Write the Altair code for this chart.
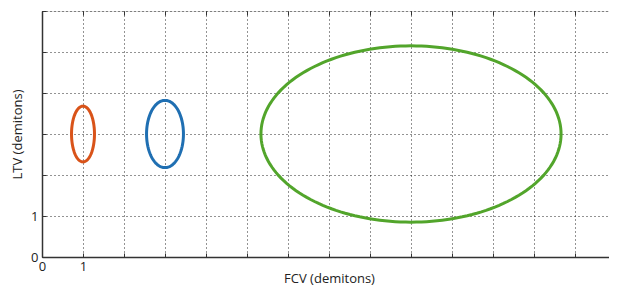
import altair as alt
import numpy as np
import pandas as pd

# Ellipse parameters (data units): centre, semi-axes
names = ["orange", "blue", "green"]
cx = [1.0, 3.0, 9.0]
cy = [3.0, 3.0, 3.0]
rx = [0.28, 0.45, 3.66]
ry = [0.68, 0.82, 2.15]
colors = ["#D95319", "#1F6FB2", "#52A52B"]

x_ticks = list(range(0, 15))
y_ticks = list(range(0, 7))

rows = []
t = np.linspace(0, 2 * np.pi, 181)
for n, a, b, ra, rb in zip(names, cx, cy, rx, ry):
    for i, tt in enumerate(t):
        rows.append({"name": n, "i": i, "x": a + ra * np.cos(tt), "y": b + rb * np.sin(tt)})
df = pd.DataFrame(rows)

W, H = 574, 246
FONT = "Open Sans"

xs = alt.Scale(domain=[0, 14], nice=False, zero=False)
ys = alt.Scale(domain=[0, 6], nice=False, zero=False)

lbl = "indexof([0,1], datum.value) >= 0 ? datum.label : ''"

common = dict(grid=True, gridDash=[1, 3], gridColor="#000", gridOpacity=0.85, ticks=False,
              domain=True, domainColor="#333", domainWidth=1.5, labelFont=FONT,
              titleFont=FONT, labelFontSize=13, titleFontSize=13, titleFontWeight="normal",
              labelColor="#222", titleColor="#222", labelExpr=lbl, labelFlush=False)

main = alt.Chart(df).mark_line(strokeWidth=3).encode(
    x=alt.X("x:Q", scale=xs, title="FCV (demitons)",
            axis=alt.Axis(values=x_ticks, labelPadding=3, titleY=25, titleBaseline="alphabetic",
                          orient="bottom", **common)),
    y=alt.Y("y:Q", scale=ys, title="LTV (demitons)",
            axis=alt.Axis(values=y_ticks, labelPadding=4, titlePadding=6, orient="left", **common)),
    color=alt.Color("name:N", scale=alt.Scale(domain=names, range=colors), legend=None),
    detail="name:N",
    order="i:Q",
)

tick_axis = dict(labels=False, grid=False, domain=False, ticks=True, tickSize=4,
                 tickColor="#333", tickWidth=1, title=None)

inner1 = alt.Chart(df).mark_point(opacity=0).encode(
    x=alt.X("x:Q", scale=xs, axis=alt.Axis(values=x_ticks, orient="top", offset=-H, **tick_axis)),
    y=alt.Y("y:Q", scale=ys, axis=alt.Axis(values=y_ticks, orient="right", offset=-W, **tick_axis)),
)
inner2 = alt.Chart(df).mark_point(opacity=0).encode(
    x=alt.X("x:Q", scale=xs, axis=alt.Axis(values=x_ticks, orient="bottom", offset=-H, **tick_axis)),
    y=alt.Y("y:Q", scale=ys, axis=alt.Axis(values=y_ticks, orient="left", offset=-W, **tick_axis)),
)

chart = alt.layer(main, inner1, inner2).resolve_axis(x="independent", y="independent").properties(
    width=W, height=H,
    autosize=alt.AutoSizeParams(type="none"),
    padding={"left": 34, "top": 3, "right": -7, "bottom": 28},
).configure_view(stroke="#333", strokeWidth=1.5).configure(background="white")

chart.save("out.html", embed_options={"renderer": "svg", "actions": False})
